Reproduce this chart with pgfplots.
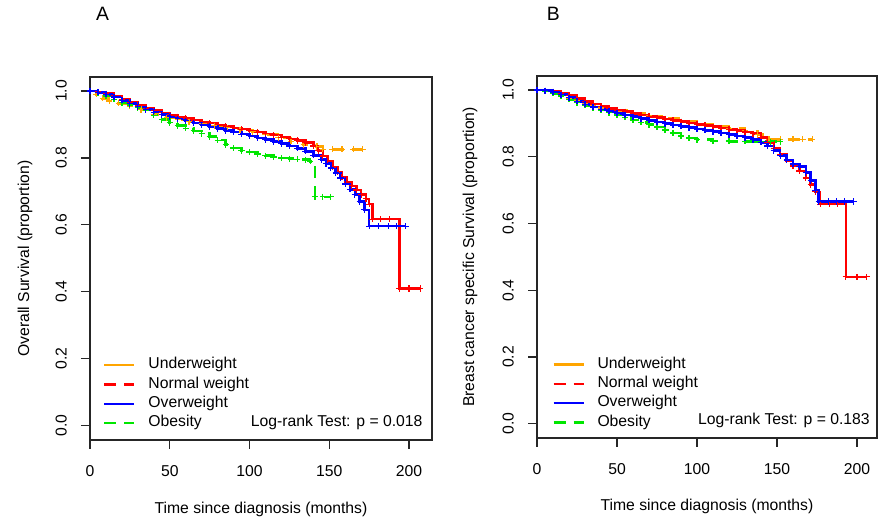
\documentclass[border=0pt]{standalone}
\usepackage{fontspec}
\setmainfont{Liberation Sans}
\usepackage{pgfplots}
\pgfplotsset{compat=1.18}

\definecolor{cUnder}{RGB}{255,165,0}
\definecolor{cNormal}{RGB}{255,0,0}
\definecolor{cOver}{RGB}{0,0,255}
\definecolor{cObese}{RGB}{0,230,0}

\pgfplotsset{
 km/.style={
  scale only axis, anchor=south west,
  xmin=0, ymin=-0.043, ymax=1.042,
  xtick={0,50,100,150,200}, ytick={0,0.2,0.4,0.6,0.8,1.0},
  tick align=outside, xtick pos=bottom, ytick pos=left,
  major tick length=6.75pt,
  axis line style={line width=0.9pt, black!85},
  every tick/.style={line width=0.9pt, black!85},
  font=\fontsize{11.8}{14}\selectfont,
  /pgf/number format/assume math mode=true,
  yticklabel style={xshift=-10.5pt, rotate=90, anchor=south, inner sep=0pt,
   /pgf/number format/fixed, /pgf/number format/fixed zerofill,
   /pgf/number format/precision=1},
  xticklabel style={yshift=-12pt, anchor=north, inner sep=0pt},
  xlabel={Time since diagnosis (months)},
  every axis x label/.style={at={(axis description cs:0.5,-0.19)}, anchor=center},
  every axis y label/.style={at={(axis description cs:-0.19,0.5)}, rotate=90, anchor=center},
  legend cell align=left,
  legend image code/.code={\draw[#1, line width=1.8pt] (0pt,0pt) -- (22.5pt,0pt); \path[draw=none] (0pt,0pt) -- (33pt,0pt);},
 },
 kmline/.style={const plot, line width=1.9pt, mark=+, mark size=2.3pt,
  mark options={solid, line width=0.9pt}, forget plot},
 kmdash/.style={dash pattern=on 9pt off 6pt},
}

\begin{document}
\begin{tikzpicture}
\useasboundingbox (0,0) rectangle (659.25pt,390.75pt);

\node at (77pt,380pt) {\fontsize{14.5}{17}\selectfont A};
\node at (415pt,380pt) {\fontsize{14.5}{17}\selectfont B};

% ---------- A: overall survival ----------
\begin{axis}[km, at={(67.5pt,60.75pt)}, width=256.5pt, height=272.25pt, xmax=214.4,
 ylabel={Overall Survival (proportion)},
 legend style={at={(axis cs:8.15,0.21)}, anchor=north west, draw=none, fill=none,
  inner sep=0pt, row sep=0pt, nodes={inner sep=0pt, text height=10pt, text depth=4.5pt}}]
\addlegendimage{cUnder, solid}\addlegendentry{Underweight}
\addlegendimage{cNormal, kmdash}\addlegendentry{Normal weight}
\addlegendimage{cOver, solid}\addlegendentry{Overweight}
\addlegendimage{cObese, kmdash}\addlegendentry{Obesity}

\addplot[kmline, cUnder, kmdash] coordinates {
 (0,1.000) (4,0.990) (8,0.978) (12,0.970) (18,0.963) (25,0.955) (32,0.945)
 (40,0.930) (48,0.920) (55,0.914) (62,0.908) (70,0.902) (78,0.896) (86,0.890)
 (94,0.884) (102,0.878) (110,0.870) (118,0.860) (126,0.850) (134,0.840)
 (142,0.834) (146,0.826) (152,0.826) (158,0.826) (165,0.826) (171,0.826)};
\addplot[kmline, cObese, kmdash] coordinates {
 (0,1.000) (5,0.995) (10,0.985) (15,0.975) (20,0.965) (25,0.958) (30,0.950)
 (35,0.943) (40,0.928) (45,0.915) (50,0.905) (55,0.897) (60,0.889) (65,0.881)
 (70,0.873) (75,0.864) (80,0.853) (85,0.840) (90,0.830) (95,0.822) (100,0.818)
 (105,0.812) (110,0.807) (115,0.803) (120,0.800) (125,0.798) (130,0.796)
 (135,0.795) (138,0.790) (141,0.684) (146,0.684) (151,0.684)};
\addplot[kmline, cNormal] coordinates {
 (0,1.000) (5,0.997) (10,0.992) (15,0.985) (20,0.975) (25,0.966) (30,0.957)
 (35,0.949) (40,0.942) (45,0.935) (50,0.929) (55,0.923) (60,0.918) (65,0.913)
 (70,0.908) (75,0.904) (80,0.899) (85,0.894) (90,0.890) (95,0.886) (100,0.881)
 (105,0.877) (110,0.872) (115,0.868) (120,0.862) (125,0.857) (130,0.852)
 (135,0.846) (140,0.836) (143,0.822) (146,0.806) (149,0.790) (152,0.772)
 (155,0.757) (158,0.742) (161,0.728) (164,0.716) (167,0.704) (170,0.690)
 (173,0.678) (175,0.662) (177,0.617) (182,0.617) (188,0.617) (194,0.410)
 (200,0.410) (207,0.410)};
\addplot[kmline, cOver] coordinates {
 (0,1.000) (5,0.996) (10,0.990) (15,0.982) (20,0.972) (25,0.962) (30,0.953)
 (35,0.945) (40,0.937) (45,0.930) (50,0.923) (55,0.917) (60,0.911) (65,0.905)
 (70,0.899) (75,0.894) (80,0.888) (85,0.882) (90,0.877) (95,0.871) (100,0.866)
 (105,0.860) (110,0.855) (115,0.849) (120,0.843) (125,0.836) (130,0.829)
 (135,0.820) (140,0.808) (145,0.795) (148,0.783) (151,0.770) (154,0.755)
 (157,0.740) (160,0.722) (163,0.706) (166,0.690) (169,0.670) (172,0.645)
 (175,0.596) (181,0.596) (187,0.596) (192,0.596) (198,0.596)};

\node[anchor=east, inner sep=0pt] at (axis cs:208.6,0.01) {Log-rank Test: p = 0.018};
\end{axis}

% ---------- B: breast cancer specific survival ----------
\begin{axis}[km, at={(402.75pt,62.25pt)}, width=255pt, height=271.5pt, xmax=212.5,
 ylabel={Breast cancer specific Survival (proportion)},
 every axis y label/.style={at={(axis description cs:-0.197,0.5)}, rotate=90, anchor=center},
 legend style={at={(axis cs:9.4,0.207)}, anchor=north west, draw=none, fill=none,
  inner sep=0pt, row sep=0pt, nodes={inner sep=0pt, text height=10pt, text depth=4.5pt}}]
\addlegendimage{cUnder, solid}\addlegendentry{Underweight}
\addlegendimage{cNormal, kmdash}\addlegendentry{Normal weight}
\addlegendimage{cOver, solid}\addlegendentry{Overweight}
\addlegendimage{cObese, kmdash}\addlegendentry{Obesity}

\addplot[kmline, cUnder, kmdash] coordinates {
 (0,1.000) (5,0.997) (10,0.990) (15,0.982) (20,0.975) (25,0.967) (30,0.960)
 (35,0.953) (40,0.946) (50,0.938) (60,0.930) (70,0.922) (80,0.914) (90,0.905)
 (100,0.897) (110,0.891) (120,0.885) (130,0.877) (138,0.866) (145,0.852)
 (152,0.852) (160,0.852) (166,0.852) (172,0.852)};
\addplot[kmline, cObese, kmdash] coordinates {
 (0,1.000) (5,0.997) (10,0.990) (15,0.982) (20,0.972) (25,0.962) (30,0.954)
 (35,0.947) (40,0.940) (45,0.932) (50,0.925) (55,0.918) (60,0.910) (65,0.903)
 (70,0.896) (75,0.889) (80,0.880) (85,0.871) (90,0.862) (95,0.856) (100,0.851)
 (110,0.847) (120,0.846) (130,0.846) (140,0.845) (146,0.845) (152,0.845)};
\addplot[kmline, cNormal] coordinates {
 (0,1.000) (5,0.998) (10,0.995) (15,0.990) (20,0.983) (25,0.975) (30,0.966)
 (35,0.958) (40,0.951) (45,0.945) (50,0.940) (55,0.935) (60,0.930) (65,0.925)
 (70,0.921) (75,0.917) (80,0.913) (85,0.909) (90,0.905) (95,0.901) (100,0.897)
 (105,0.894) (110,0.890) (115,0.886) (120,0.882) (125,0.878) (130,0.874)
 (135,0.869) (140,0.858) (144,0.843) (148,0.825) (152,0.806) (156,0.789)
 (160,0.772) (164,0.757) (168,0.736) (171,0.716) (174,0.695) (177,0.658)
 (183,0.658) (188,0.658) (193,0.440) (200,0.440) (206,0.440)};
\addplot[kmline, cOver] coordinates {
 (0,1.000) (5,0.998) (10,0.994) (15,0.986) (20,0.977) (25,0.966) (30,0.957)
 (35,0.949) (40,0.942) (45,0.936) (50,0.930) (55,0.925) (60,0.920) (65,0.914)
 (70,0.909) (75,0.904) (80,0.899) (85,0.895) (90,0.891) (95,0.887) (100,0.883)
 (105,0.879) (110,0.875) (115,0.871) (120,0.866) (125,0.862) (130,0.857)
 (135,0.851) (140,0.843) (144,0.832) (148,0.818) (152,0.803) (156,0.790)
 (160,0.778) (164,0.770) (168,0.752) (171,0.728) (174,0.700) (176,0.666)
 (182,0.666) (187,0.666) (192,0.666) (198,0.666)};

\node[anchor=east, inner sep=0pt] at (axis cs:208.1,0.01) {Log-rank Test: p = 0.183};
\end{axis}
\end{tikzpicture}
\end{document}
